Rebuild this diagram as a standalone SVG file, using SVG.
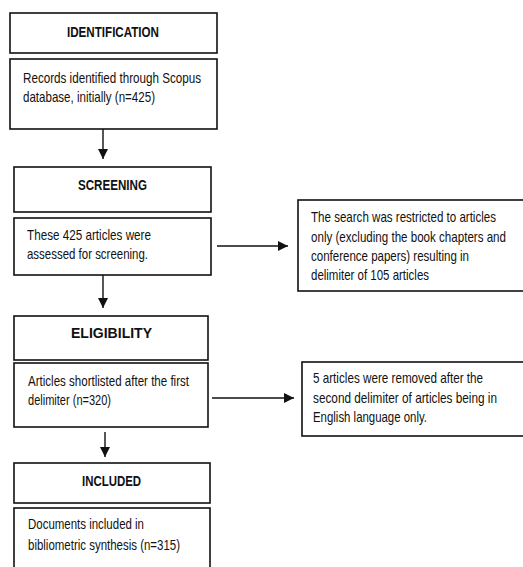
<svg xmlns="http://www.w3.org/2000/svg" width="523" height="567" viewBox="0 0 523 567">
<defs>
<style>
.box{fill:#fff;stroke:#111;stroke-width:1.6}
.t{font-family:"Liberation Sans",Arial,sans-serif;font-size:15px;fill:#111}
.h{font-family:"Liberation Sans",Arial,sans-serif;font-size:15px;font-weight:bold;fill:#111}
.ln{stroke:#111;stroke-width:1.4;fill:none}
</style>
<marker id="ah" viewBox="0 0 10 10" refX="10" refY="5" markerWidth="10" markerHeight="10" markerUnits="userSpaceOnUse" orient="auto">
<path d="M0,0 L10,5 L0,10 Z" fill="#111"/>
</marker>
</defs>
<rect width="523" height="567" fill="#fff"/>
<g id="connectors">
<line class="ln" x1="103" y1="129" x2="103" y2="159" marker-end="url(#ah)"/>
<line class="ln" x1="103" y1="275" x2="103" y2="308" marker-end="url(#ah)"/>
<line class="ln" x1="105" y1="432" x2="105" y2="457" marker-end="url(#ah)"/>
<line class="ln" x1="217" y1="246" x2="288" y2="246" marker-end="url(#ah)"/>
<line class="ln" x1="212" y1="398" x2="294" y2="398" marker-end="url(#ah)"/>
</g>
<g id="identification">
<rect class="box" x="10" y="13" width="207" height="40"/>
<text class="h" x="67" y="37" textLength="92" lengthAdjust="spacingAndGlyphs">IDENTIFICATION</text>
</g>
<g id="records">
<rect class="box" x="10" y="59" width="207" height="70"/>
<text class="t" x="23" y="83" textLength="178" lengthAdjust="spacingAndGlyphs">Records identified through Scopus</text>
<text class="t" x="23" y="102" textLength="132" lengthAdjust="spacingAndGlyphs">database, initially (n=425)</text>
</g>
<g id="screening">
<rect class="box" x="14" y="167" width="197" height="45"/>
<text class="h" x="78" y="190" textLength="69" lengthAdjust="spacingAndGlyphs">SCREENING</text>
</g>
<g id="screened">
<rect class="box" x="14" y="218" width="197" height="57"/>
<text class="t" x="27" y="240" textLength="124" lengthAdjust="spacingAndGlyphs">These 425 articles were</text>
<text class="t" x="27" y="259" textLength="121" lengthAdjust="spacingAndGlyphs">assessed for screening.</text>
</g>
<g id="excluded1">
<rect class="box" x="298" y="200" width="230" height="91"/>
<text class="t" x="311" y="222" textLength="185" lengthAdjust="spacingAndGlyphs">The search was restricted to articles</text>
<text class="t" x="311" y="242" textLength="195" lengthAdjust="spacingAndGlyphs">only (excluding the book chapters and</text>
<text class="t" x="311" y="261" textLength="158" lengthAdjust="spacingAndGlyphs">conference papers) resulting in</text>
<text class="t" x="311" y="280" textLength="118" lengthAdjust="spacingAndGlyphs">delimiter of 105 articles</text>
</g>
<g id="eligibility">
<rect class="box" x="14" y="316" width="194" height="44"/>
<text class="h" x="71" y="338" textLength="81" lengthAdjust="spacingAndGlyphs">ELIGIBILITY</text>
</g>
<g id="shortlisted">
<rect class="box" x="14" y="363" width="194" height="64"/>
<text class="t" x="28" y="386" textLength="161" lengthAdjust="spacingAndGlyphs">Articles shortlisted after the first</text>
<text class="t" x="28" y="405" textLength="83" lengthAdjust="spacingAndGlyphs">delimiter (n=320)</text>
</g>
<g id="excluded2">
<rect class="box" x="302" y="362" width="226" height="74"/>
<text class="t" x="313" y="383" textLength="170" lengthAdjust="spacingAndGlyphs">5 articles were removed after the</text>
<text class="t" x="313" y="403" textLength="184" lengthAdjust="spacingAndGlyphs">second delimiter of articles being in</text>
<text class="t" x="313" y="422" textLength="114" lengthAdjust="spacingAndGlyphs">English language only.</text>
</g>
<g id="included">
<rect class="box" x="14" y="463" width="196" height="40"/>
<text class="h" x="82" y="486" textLength="59" lengthAdjust="spacingAndGlyphs">INCLUDED</text>
</g>
<g id="documents">
<rect class="box" x="14" y="508" width="196" height="65"/>
<text class="t" x="28" y="529" textLength="116" lengthAdjust="spacingAndGlyphs">Documents included in</text>
<text class="t" x="28" y="550" textLength="152" lengthAdjust="spacingAndGlyphs">bibliometric synthesis (n=315)</text>
</g>
</svg>
